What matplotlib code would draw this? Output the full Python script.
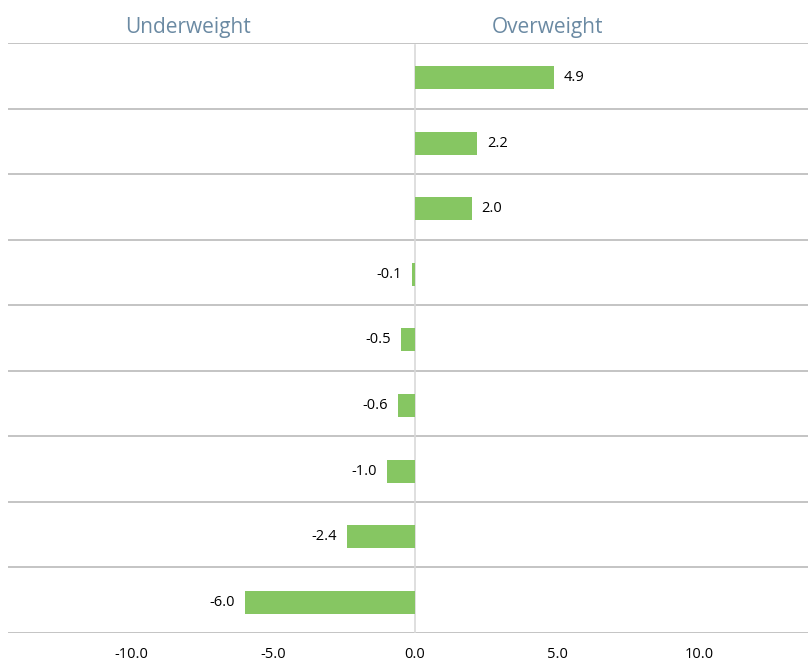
import matplotlib.pyplot as plt

# values from top to bottom
values = [4.9, 2.2, 2.0, -0.1, -0.5, -0.6, -1.0, -2.4, -6.0]
xticks = [-10, -5, 0, 5, 10]
headers = ['Underweight', 'Overweight']

bar_color = '#86c662'
grid_color = '#bfbfbf'

fig = plt.figure(figsize=(8.08, 6.63), dpi=100)
ax = fig.add_axes([8 / 808, 1 - 633 / 663, 800 / 808, 590 / 663])

n = len(values)
ypos = [n - 1 - i - 0.03 for i in range(n)]
ax.barh(ypos, values, height=0.35, color=bar_color, zorder=3)

for y, v in zip(ypos, values):
    if v >= 0:
        ax.text(v + 0.35, y, f'{v:.1f}', va='center', ha='left',
                fontsize=10.5, family='Open Sans')
    else:
        ax.text(v - 0.35, y, f'{v:.1f}', va='center', ha='right',
                fontsize=10.5, family='Open Sans')

# row separators
for b in range(n + 1):
    ax.axhline(b - 0.5, color=grid_color, lw=1.3, zorder=1)
ax.axvline(0, ymin=0, ymax=0.997, color='#d9d9d9', lw=1.2, zorder=2)

ax.set_xlim(-14.33, 13.84)
ax.set_ylim(-0.5, n - 0.5)
ax.set_yticks([])
ax.set_xticks(xticks)
ax.set_xticklabels([f'{t:.1f}' for t in xticks], family='Open Sans', fontsize=10.5)
ax.tick_params(axis='x', length=0, pad=10)
for s in ax.spines.values():
    s.set_visible(False)

ax.text(-8, n - 0.5 + 0.24, headers[0], ha='center', va='center',
        fontsize=15, color='#6b8aa3', family='Open Sans')
ax.text(4.65, n - 0.5 + 0.24, headers[1], ha='center', va='center',
        fontsize=15, color='#6b8aa3', family='Open Sans')

fig.savefig('out.png', dpi=100)
